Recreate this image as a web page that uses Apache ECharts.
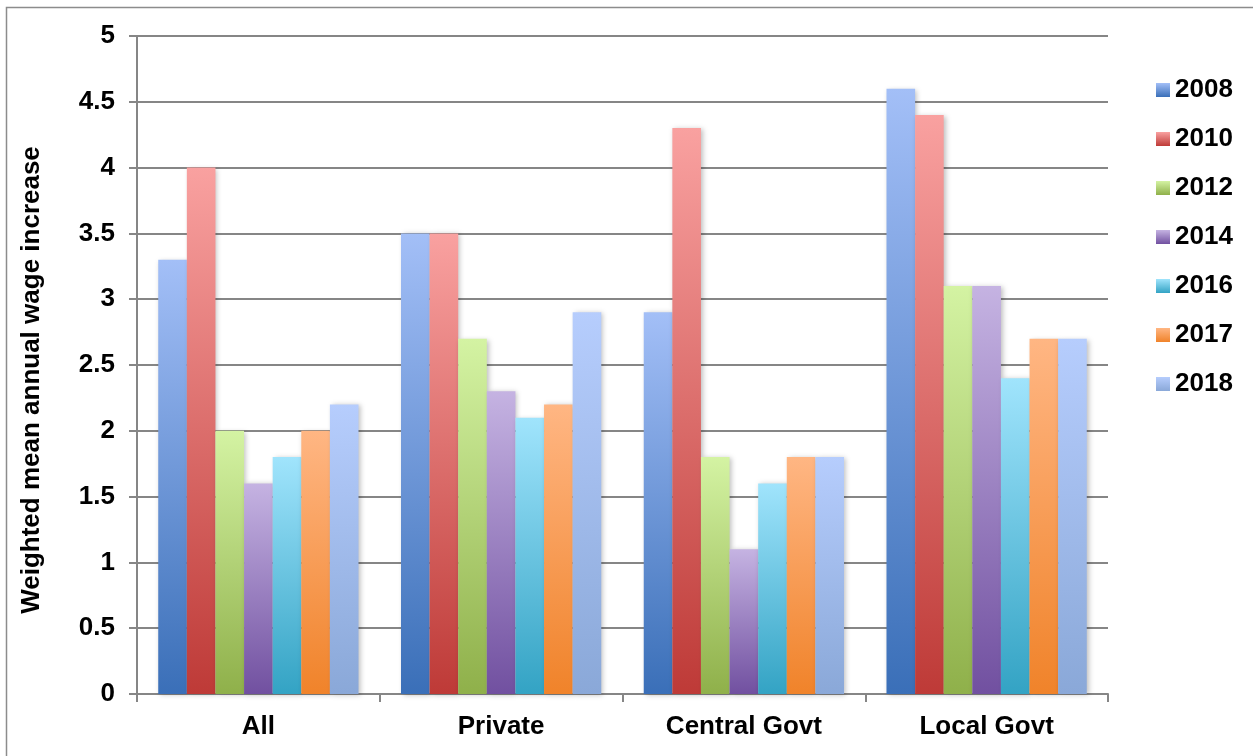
<!DOCTYPE html>
<html><head><meta charset="utf-8">
<script src="https://cdn.jsdelivr.net/npm/echarts@6/dist/echarts.min.js"></script>
<style>html,body{margin:0;padding:0;background:#fff}#c{width:1253px;height:756px}</style>
</head><body><div id="c"></div>
<script>
const categories = ['All', 'Private', 'Central Govt', 'Local Govt'];
const years = ['2008', '2010', '2012', '2014', '2016', '2017', '2018'];
const v2008 = [3.3, 3.5, 2.9, 4.6];
const v2010 = [4.0, 3.5, 4.3, 4.4];
const v2012 = [2.0, 2.7, 1.8, 3.1];
const v2014 = [1.6, 2.3, 1.1, 3.1];
const v2016 = [1.8, 2.1, 1.6, 2.4];
const v2017 = [2.0, 2.2, 1.8, 2.7];
const v2018 = [2.2, 2.9, 1.8, 2.7];
const values = [v2008, v2010, v2012, v2014, v2016, v2017, v2018];
const topColors = ['#a3bff7', '#f9a1a0', '#d4f3a3', '#c5b3e2', '#a0e4fc', '#ffb683', '#b6cdfd'];
const bottomColors = ['#3a6fb8', '#be3a37', '#8fb04a', '#7150a0', '#33a3c4', '#f0832a', '#8aa8d8'];

const chart = echarts.init(document.getElementById('c'));
const font = 'Liberation Sans, Arial, sans-serif';
chart.setOption({
  animation: false,
  graphic: [{type: 'rect', shape: {x: 6.5, y: 7.5, width: 1300, height: 800}, style: {fill: 'none', stroke: '#8c8c8c', lineWidth: 1.5}, z: -10}],
  grid: {left: 137, right: 145, top: 36, bottom: 62},
  legend: {
    orient: 'vertical', left: 1151, top: 72, itemWidth: 14, itemHeight: 14, itemGap: 23,
    icon: 'rect',
    textStyle: {fontFamily: font, fontWeight: 'bold', fontSize: 26, color: '#000'},
    data: years
  },
  xAxis: {
    type: 'category', data: categories,
    axisLine: {lineStyle: {color: '#868686', width: 2}},
    axisTick: {show: true, length: 8, lineStyle: {color: '#868686', width: 2}},
    axisLabel: {fontFamily: font, fontWeight: 'bold', fontSize: 26, color: '#000', margin: 20}
  },
  yAxis: {
    type: 'value', min: 0, max: 5, interval: 0.5,
    name: 'Weighted mean annual wage increase', nameLocation: 'middle', nameGap: 92,
    nameTextStyle: {fontFamily: font, fontWeight: 'bold', fontSize: 26, color: '#000', padding: [0, 30, 0, 0]},
    axisLine: {show: true, lineStyle: {color: '#868686', width: 2}},
    axisTick: {show: true, length: 8, lineStyle: {color: '#868686', width: 2}},
    axisLabel: {fontFamily: font, fontWeight: 'bold', fontSize: 26, color: '#000', margin: 22},
    splitLine: {lineStyle: {color: '#868686', width: 2}}
  },
  series: years.map((y, i) => ({
    name: y, type: 'bar', data: values[i],
    barGap: '0%', barCategoryGap: '17.5%',
    itemStyle: {
      color: new echarts.graphic.LinearGradient(0, 0, 0, 1, [
        {offset: 0, color: topColors[i]}, {offset: 1, color: bottomColors[i]}
      ]),
      shadowBlur: 5, shadowOffsetX: 2, shadowOffsetY: 1, shadowColor: 'rgba(0,0,0,0.25)'
    }
  }))
});
</script></body></html>
